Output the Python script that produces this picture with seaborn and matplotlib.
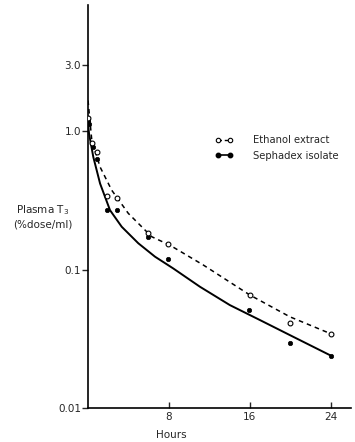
import matplotlib
matplotlib.use("Agg")
import matplotlib.pyplot as plt
import seaborn as sns
import pandas as pd
from matplotlib.lines import Line2D
from matplotlib.ticker import FixedLocator, FixedFormatter, NullLocator

# ---- data ----
eth_t = [0.0, 0.37, 0.86, 1.9, 2.91, 5.93, 7.87, 16.0, 20.0, 24.0]
eth_v = [1.24, 0.823, 0.709, 0.342, 0.327, 0.183, 0.153, 0.0655, 0.0413, 0.0342]

sep_t = [0.0, 0.1, 0.52, 0.86, 1.88, 2.86, 5.93, 7.87, 15.9, 19.95, 23.97]
sep_v = [1.18, 1.12, 0.77, 0.635, 0.269, 0.269, 0.173, 0.119, 0.051, 0.0293, 0.0237]

# fitted curves as drawn
eth_curve_t = [0.0, 0.37, 1.19, 2.34, 3.98, 6.29, 8.1, 11.39, 16.0, 19.95, 24.07]
eth_curve_v = [1.67, 0.861, 0.552, 0.375, 0.255, 0.173, 0.150, 0.108, 0.0655, 0.0456, 0.0342]

sep_curve_t = [0.0, 0.1, 0.52, 1.19, 2.17, 3.33, 4.97, 6.62, 8.42, 11.06, 14.02, 16.99, 20.28, 23.9]
sep_curve_v = [1.15, 0.96, 0.652, 0.419, 0.269, 0.204, 0.155, 0.124, 0.102, 0.0752, 0.0554, 0.0432, 0.0327, 0.0241]

x_ticks = [8, 16, 24]
x_labels = ["8", "16", "24"]
y_ticks = [0.01, 0.1, 1.0, 3.0]
y_labels = ["0.01", "0.1", "1.0", "3.0"]
series_names = ["Ethanol extract", "Sephadex isolate"]

sns.set_theme(style="ticks")
plt.rcParams["font.family"] = ["DejaVu Sans"]

fig = plt.figure(figsize=(3.55, 4.42), dpi=100)
ax = fig.add_axes([0.248, 0.077, 0.741, 0.912])

df_ec = pd.DataFrame({"t": eth_curve_t, "v": eth_curve_v})
df_sc = pd.DataFrame({"t": sep_curve_t, "v": sep_curve_v})
df_e = pd.DataFrame({"t": eth_t, "v": eth_v})
df_s = pd.DataFrame({"t": sep_t, "v": sep_v})

sns.lineplot(data=df_ec, x="t", y="v", ax=ax, color="black", lw=1.1,
             linestyle=(0, (3, 2.6)), sort=False)
sns.lineplot(data=df_sc, x="t", y="v", ax=ax, color="black", lw=1.4, sort=False)
sns.scatterplot(data=df_s, x="t", y="v", ax=ax, color="black", s=10,
                edgecolor="black", linewidth=0.5, zorder=5)
sns.scatterplot(data=df_e, x="t", y="v", ax=ax, facecolor="white", s=12,
                edgecolor="black", linewidth=0.8, zorder=6)

ax.set_yscale("log")
ax.set_xlim(0, 26)
ax.set_ylim(0.01, 8.2)
ax.yaxis.set_major_locator(FixedLocator(y_ticks))
ax.yaxis.set_major_formatter(FixedFormatter(y_labels))
ax.yaxis.set_minor_locator(NullLocator())
ax.xaxis.set_major_locator(FixedLocator(x_ticks))
ax.xaxis.set_major_formatter(FixedFormatter(x_labels))

for s in ["top", "right"]:
    ax.spines[s].set_visible(False)
for s in ["left", "bottom"]:
    ax.spines[s].set_linewidth(1.2)
    ax.spines[s].set_color("black")

ax.tick_params(axis="y", direction="out", length=4, width=1, labelsize=7.5, pad=1)
ax.tick_params(axis="x", direction="in", length=4, width=1, labelsize=7.5, pad=3)

ax.set_xlabel("Hours", fontsize=7.5)
ax.xaxis.set_label_coords(0.316, -0.055)
ax.set_ylabel("Plasma T$_3$\n(%dose/ml)", fontsize=7.5, rotation=0,
              ha="center", va="center", linespacing=1.3)
ax.yaxis.set_label_coords(-0.171, 0.476)

handles = [
    Line2D([], [], color="black", lw=1.0, linestyle=(0, (2.5, 2)), marker="o",
           markersize=3.2, markerfacecolor="white", markeredgecolor="black", markeredgewidth=0.8),
    Line2D([], [], color="black", lw=1.2, marker="o", markersize=3.2,
           markerfacecolor="black", markeredgecolor="black"),
]
ax.legend(handles, series_names, loc="upper left", bbox_to_anchor=(0.483, 0.677),
          frameon=False, numpoints=2, handlelength=1.8, handletextpad=2.0,
          labelspacing=0.55, fontsize=7.2, borderaxespad=0, borderpad=0)

fig.savefig("out.png", dpi=100, facecolor="white")
